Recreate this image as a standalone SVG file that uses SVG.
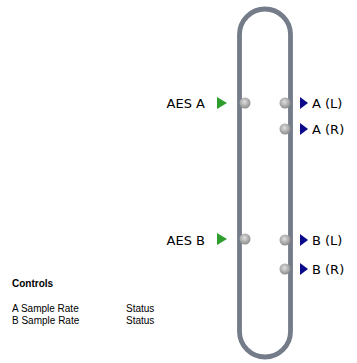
<svg xmlns="http://www.w3.org/2000/svg" width="357" height="363" viewBox="0 0 357 363">
<defs>
<radialGradient id="pg" cx="0.45" cy="0.4" r="0.6">
<stop offset="0" stop-color="#e0e0e0"/>
<stop offset="1" stop-color="#8c8c8c"/>
</radialGradient>
<style>
.lbl{font-family:"DejaVu Sans",sans-serif;font-size:13px;fill:#000}
.sm{font-family:"Liberation Sans",Arial,sans-serif;font-size:10px;fill:#000}
.bold{font-weight:bold}
.port{fill:url(#pg)}
.in{fill:#2e9e2e}
.out{fill:#0a0a8a}
</style>
</defs>
<g id="device">
<rect x="239.5" y="9" width="51" height="348" rx="25.5" ry="25.5" fill="#fff" stroke="#747c89" stroke-width="4.8"/>
</g>
<g id="ports">
<circle class="port" cx="245" cy="103" r="5.5"/>
<circle class="port" cx="285" cy="103" r="5.5"/>
<circle class="port" cx="285" cy="129" r="5.5"/>
<circle class="port" cx="245" cy="239" r="5.5"/>
<circle class="port" cx="285" cy="240" r="5.5"/>
<circle class="port" cx="285" cy="269" r="5.5"/>
</g>
<g id="aesA">
<text class="lbl" x="205" y="108" text-anchor="end">AES A</text>
<polygon class="in" points="217,97 227,103 217,109"/>
</g>
<g id="aesB">
<text class="lbl" x="205" y="245" text-anchor="end">AES B</text>
<polygon class="in" points="217,233 227,239 217,245"/>
</g>
<g id="outAL">
<polygon class="out" points="300,97 308,103 300,109"/>
<text class="lbl" x="312" y="108">A (L)</text>
</g>
<g id="outAR">
<polygon class="out" points="300,123 308,129 300,135"/>
<text class="lbl" x="312" y="134">A (R)</text>
</g>
<g id="outBL">
<polygon class="out" points="300,234 308,240 300,246"/>
<text class="lbl" x="312" y="245">B (L)</text>
</g>
<g id="outBR">
<polygon class="out" points="300,263 308,269 300,275"/>
<text class="lbl" x="312" y="274">B (R)</text>
</g>
<g id="connectors"></g>
<g id="controls">
<text class="sm bold" x="12" y="287" font-size="10.8px">Controls</text>
<text class="sm" x="12" y="312">A Sample Rate</text>
<text class="sm" x="126" y="312">Status</text>
<text class="sm" x="12" y="324">B Sample Rate</text>
<text class="sm" x="126" y="324">Status</text>
</g>
</svg>
